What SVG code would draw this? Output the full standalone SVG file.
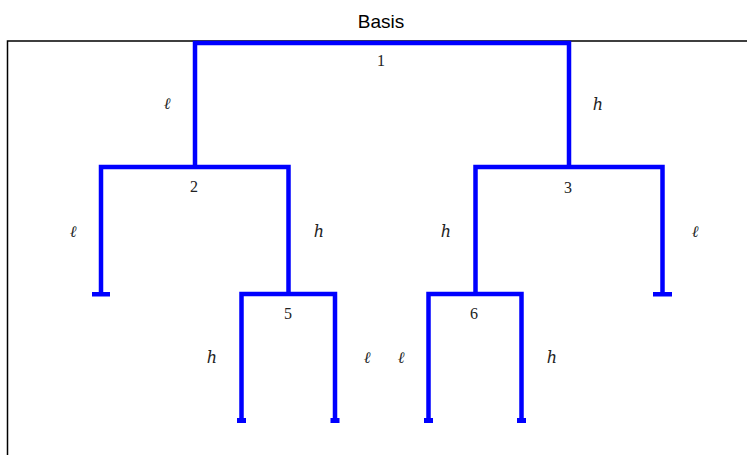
<svg xmlns="http://www.w3.org/2000/svg" width="747" height="455" viewBox="0 0 747 455">
<style>
.frame{fill:none;stroke:#000;stroke-width:1.5}
.edge{fill:none;stroke:#0000ff;stroke-width:4.5;stroke-linejoin:miter;stroke-linecap:butt}
.foot{fill:#0000ff}
.num{font-family:"Liberation Serif","DejaVu Serif",serif;font-size:16px;fill:#222;text-anchor:middle}
.lab{font-family:"DejaVu Serif","Liberation Serif",serif;font-style:italic;font-size:16px;fill:#222;text-anchor:middle}
.title{font-family:"Liberation Sans",Arial,sans-serif;font-size:19px;fill:#000;text-anchor:middle}
</style>
<rect width="747" height="455" fill="#fff"/>
<text class="title" x="381" y="28">Basis</text>
<path class="frame" d="M7.5,455 V41 H747"/>
<g id="connectors">
<path class="edge" d="M195,167 V43 H569 V167"/>
<path class="edge" d="M101,294 V167 H288.5 V294"/>
<path class="edge" d="M475.5,294 V167 H662.5 V294"/>
<path class="edge" d="M241.5,420 V294 H335 V420"/>
<path class="edge" d="M428.5,420 V294 H521.5 V420"/>
<text class="lab" x="167" y="109">ℓ</text>
<text class="lab" x="598" y="110">h</text>
<text class="lab" x="73" y="237">ℓ</text>
<text class="lab" x="319" y="237">h</text>
<text class="lab" x="446" y="237">h</text>
<text class="lab" x="695" y="237">ℓ</text>
<text class="lab" x="212" y="363">h</text>
<text class="lab" x="367" y="363">ℓ</text>
<text class="lab" x="401" y="363">ℓ</text>
<text class="lab" x="552" y="363">h</text>
</g>
<g id="node1"><text class="num" x="381" y="66">1</text></g>
<g id="node2"><text class="num" x="194" y="192">2</text></g>
<g id="node3"><text class="num" x="568" y="193">3</text></g>
<g id="node5"><text class="num" x="288" y="319">5</text></g>
<g id="node6"><text class="num" x="474" y="319">6</text></g>
<g id="leaf4"><rect class="foot" x="92" y="292" width="18" height="4.5"/></g>
<g id="leaf7"><rect class="foot" x="653" y="292" width="19" height="4.5"/></g>
<g id="leaf10"><rect class="foot" x="237" y="418" width="9" height="5"/></g>
<g id="leaf11"><rect class="foot" x="330.5" y="418" width="9" height="5"/></g>
<g id="leaf12"><rect class="foot" x="424" y="418" width="9" height="5"/></g>
<g id="leaf13"><rect class="foot" x="517" y="418" width="9" height="5"/></g>
</svg>
